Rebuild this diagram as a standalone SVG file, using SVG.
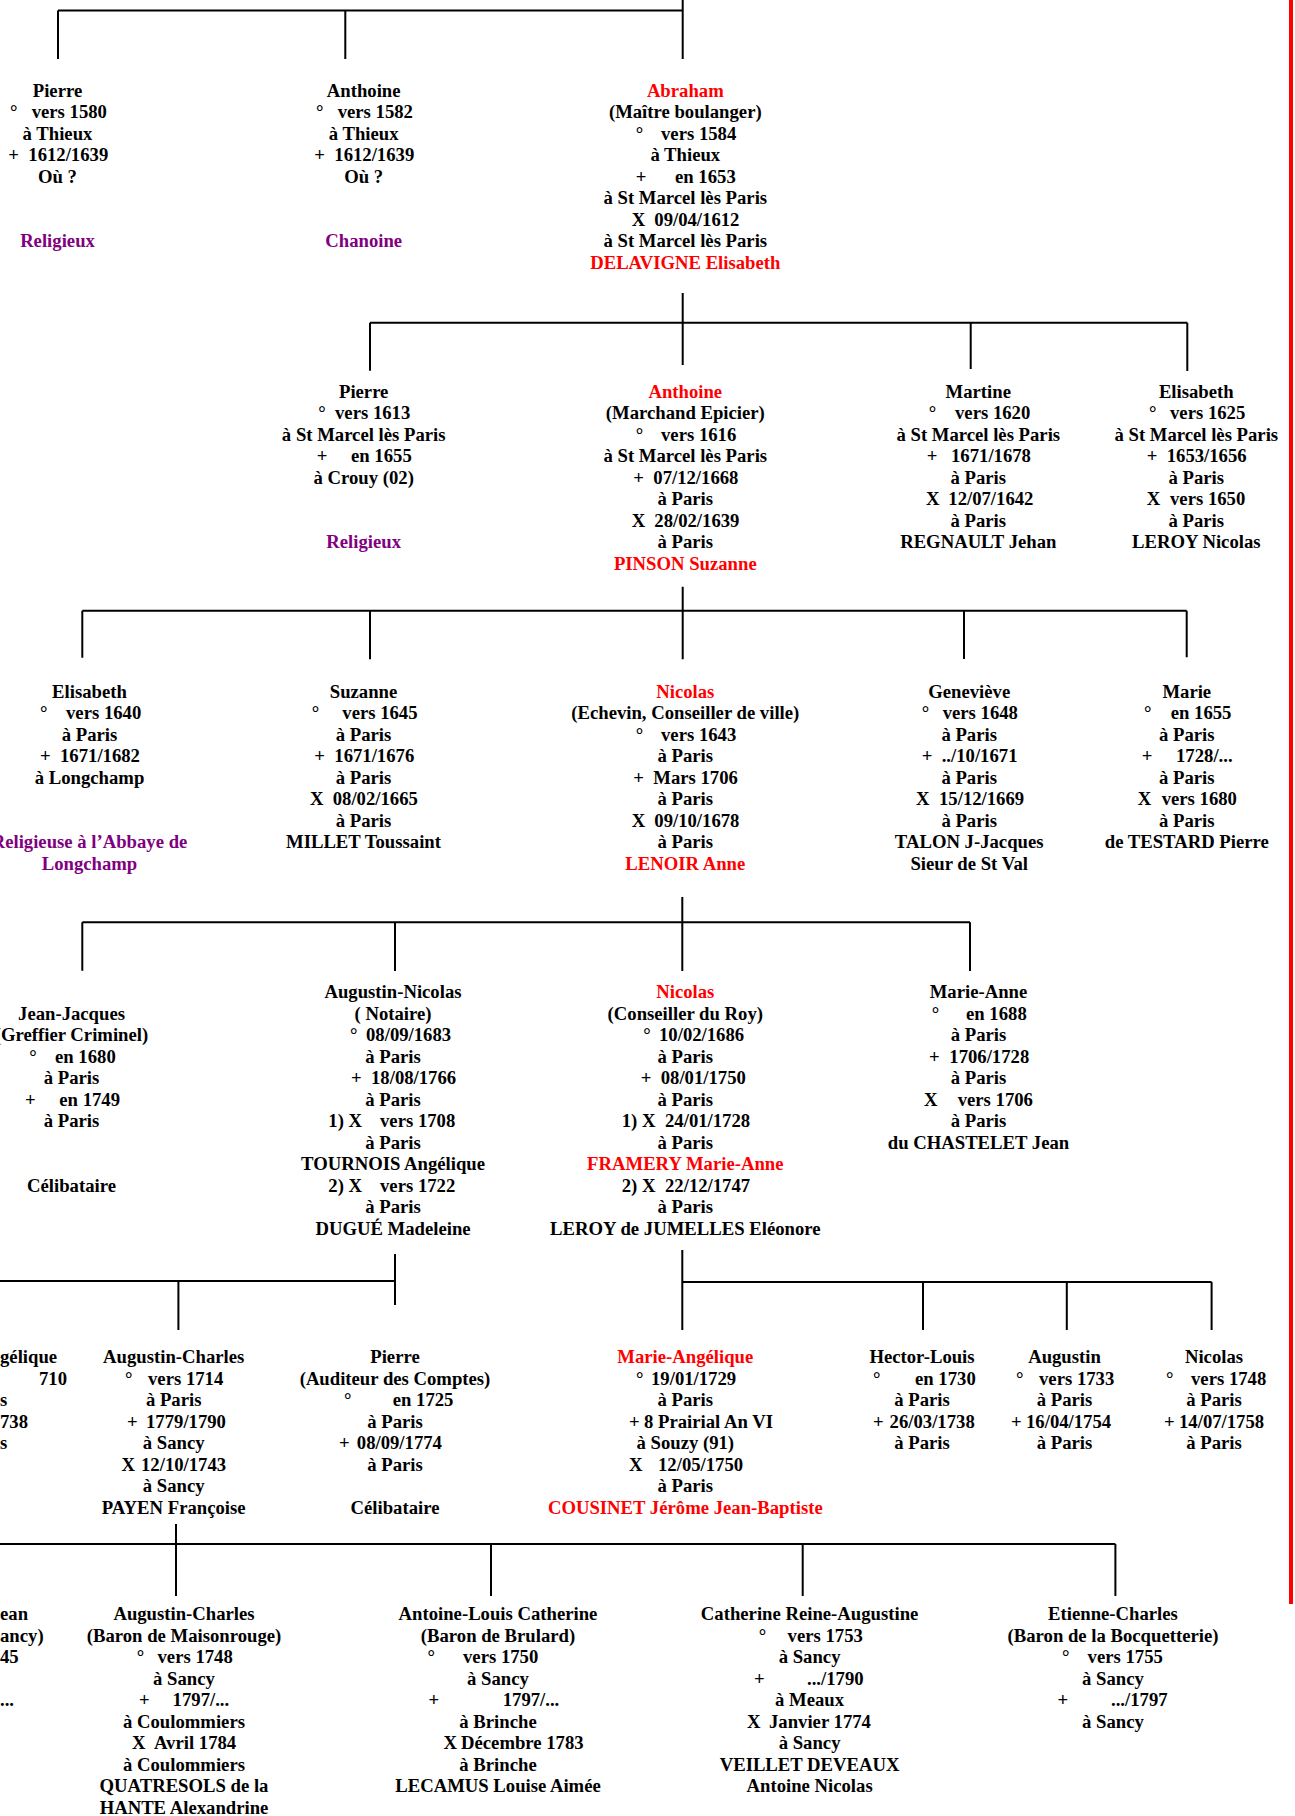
<svg xmlns="http://www.w3.org/2000/svg" width="1295" height="1816" viewBox="0 0 1295 1816">
<style>
.t{font-family:"Liberation Serif","Times New Roman",serif;font-weight:bold;font-size:18.7px;fill:#000}
.m{text-anchor:middle}
.r{fill:#ff0000}
.p{fill:#800080}
#connectors path{stroke:#000;stroke-width:2;fill:none}
</style>
<rect width="1295" height="1816" fill="#fff"/>
<g id="connectors">
<path d="M58,10.5H682.7M58,10.5V59M345.3,10.5V59M682.7,0V59"/>
<path d="M682.7,293V365M370,322.7H1187.3M370,322.7V370.7M970.7,322.7V369M1187.3,322.7V371"/>
<path d="M682.7,586.7V659.3M82.3,610.7H1186.7M82.3,610.7V657.7M370,610.7V659.3M964,610.7V659M1186.7,610.7V657.3"/>
<path d="M682.3,897V971M82.3,922.3H970M82.3,922.3V970.7M395,922.3V971M970,922.3V971"/>
<path d="M0,1281H395M395,1254V1305M178.4,1281V1330"/>
<path d="M682.3,1250V1330M682.3,1282H1211.6M923,1282V1330M1066.8,1282V1330M1211.6,1282V1330"/>
<path d="M176,1524V1596M0,1544H1115.4M491,1544V1596M802.7,1544V1596M1115.4,1544V1596"/>
</g>
<path id="margin" d="M1291,0V1604" stroke="#ff0000" stroke-width="4" fill="none"/>

<g id="g1-pierre">
<text class="t m" x="57.5" y="96.7">Pierre</text>
<text class="t" y="118.2"><tspan x="10">°</tspan><tspan x="31.7">vers 1580</tspan></text>
<text class="t m" x="57.5" y="139.7">à Thieux</text>
<text class="t" y="161.2"><tspan x="8.3">+</tspan><tspan x="28.3">1612/1639</tspan></text>
<text class="t m" x="57.5" y="182.7">Où ?</text>
<text class="t m p" x="57.5" y="247.2">Religieux</text>
</g>
<g id="g1-anthoine">
<text class="t m" x="363.7" y="96.7">Anthoine</text>
<text class="t" y="118.2"><tspan x="316">°</tspan><tspan x="337.7">vers 1582</tspan></text>
<text class="t m" x="363.7" y="139.7">à Thieux</text>
<text class="t" y="161.2"><tspan x="314.3">+</tspan><tspan x="334.3">1612/1639</tspan></text>
<text class="t m" x="363.7" y="182.7">Où ?</text>
<text class="t m p" x="363.7" y="247.2">Chanoine</text>
</g>
<g id="g1-abraham">
<text class="t m r" x="685.3" y="96.7">Abraham</text>
<text class="t m" x="685.3" y="118.2">(Maître boulanger)</text>
<text class="t" y="139.7"><tspan x="635.7">°</tspan><tspan x="661">vers 1584</tspan></text>
<text class="t m" x="685.3" y="161.2">à Thieux</text>
<text class="t" y="182.7"><tspan x="635.7">+</tspan><tspan x="675">en 1653</tspan></text>
<text class="t m" x="685.3" y="204.2">à St Marcel lès Paris</text>
<text class="t" y="225.7"><tspan x="631.7">X</tspan><tspan x="654.3">09/04/1612</tspan></text>
<text class="t m" x="685.3" y="247.2">à St Marcel lès Paris</text>
<text class="t m r" x="685.3" y="268.7">DELAVIGNE Elisabeth</text>
</g>

<g id="g2-pierre">
<text class="t m" x="363.7" y="397.7">Pierre</text>
<text class="t" y="419.2"><tspan x="318.3">°</tspan><tspan x="335">vers 1613</tspan></text>
<text class="t m" x="363.7" y="440.7">à St Marcel lès Paris</text>
<text class="t" y="462.2"><tspan x="316.7">+</tspan><tspan x="351">en 1655</tspan></text>
<text class="t m" x="363.7" y="483.7">à Crouy (02)</text>
<text class="t m p" x="363.7" y="547.7">Religieux</text>
</g>
<g id="g2-anthoine">
<text class="t m r" x="685.3" y="397.7">Anthoine</text>
<text class="t m" x="685.3" y="419.2">(Marchand Epicier)</text>
<text class="t" y="440.7"><tspan x="635.7">°</tspan><tspan x="661">vers 1616</tspan></text>
<text class="t m" x="685.3" y="462.2">à St Marcel lès Paris</text>
<text class="t" y="483.7"><tspan x="633.3">+</tspan><tspan x="653.3">07/12/1668</tspan></text>
<text class="t m" x="685.3" y="505.2">à Paris</text>
<text class="t" y="526.7"><tspan x="631.7">X</tspan><tspan x="654.3">28/02/1639</tspan></text>
<text class="t m" x="685.3" y="548.2">à Paris</text>
<text class="t m r" x="685.3" y="569.7">PINSON Suzanne</text>
</g>
<g id="g2-martine">
<text class="t m" x="978.3" y="397.7">Martine</text>
<text class="t" y="419.2"><tspan x="928.7">°</tspan><tspan x="955">vers 1620</tspan></text>
<text class="t m" x="978.3" y="440.7">à St Marcel lès Paris</text>
<text class="t" y="462.2"><tspan x="926.7">+</tspan><tspan x="951">1671/1678</tspan></text>
<text class="t m" x="978.3" y="483.7">à Paris</text>
<text class="t" y="505.2"><tspan x="926">X</tspan><tspan x="948.3">12/07/1642</tspan></text>
<text class="t m" x="978.3" y="526.7">à Paris</text>
<text class="t m" x="978.3" y="548.2">REGNAULT Jehan</text>
</g>
<g id="g2-elisabeth">
<text class="t m" x="1196.3" y="397.7">Elisabeth</text>
<text class="t" y="419.2"><tspan x="1149">°</tspan><tspan x="1170">vers 1625</tspan></text>
<text class="t m" x="1196.3" y="440.7">à St Marcel lès Paris</text>
<text class="t" y="462.2"><tspan x="1146.7">+</tspan><tspan x="1166.7">1653/1656</tspan></text>
<text class="t m" x="1196.3" y="483.7">à Paris</text>
<text class="t" y="505.2"><tspan x="1146.7">X</tspan><tspan x="1170">vers 1650</tspan></text>
<text class="t m" x="1196.3" y="526.7">à Paris</text>
<text class="t m" x="1196.3" y="548.2">LEROY Nicolas</text>
</g>

<g id="g3-elisabeth">
<text class="t m" x="89.5" y="697.7">Elisabeth</text>
<text class="t" y="719.2"><tspan x="40">°</tspan><tspan x="66">vers 1640</tspan></text>
<text class="t m" x="89.5" y="740.7">à Paris</text>
<text class="t" y="762.2"><tspan x="40">+</tspan><tspan x="60">1671/1682</tspan></text>
<text class="t m" x="89.5" y="783.7">à Longchamp</text>
<text class="t m p" x="89.5" y="848.2">Religieuse à l’Abbaye de</text>
<text class="t m p" x="89.5" y="869.7">Longchamp</text>
</g>
<g id="g3-suzanne">
<text class="t m" x="363.5" y="697.7">Suzanne</text>
<text class="t" y="719.2"><tspan x="311.7">°</tspan><tspan x="342.3">vers 1645</tspan></text>
<text class="t m" x="363.5" y="740.7">à Paris</text>
<text class="t" y="762.2"><tspan x="314.3">+</tspan><tspan x="334.3">1671/1676</tspan></text>
<text class="t m" x="363.5" y="783.7">à Paris</text>
<text class="t" y="805.2"><tspan x="310">X</tspan><tspan x="332.7">08/02/1665</tspan></text>
<text class="t m" x="363.5" y="826.7">à Paris</text>
<text class="t m" x="363.5" y="848.2">MILLET Toussaint</text>
</g>
<g id="g3-nicolas">
<text class="t m r" x="685.3" y="697.7">Nicolas</text>
<text class="t m" x="685.3" y="719.2">(Echevin, Conseiller de ville)</text>
<text class="t" y="740.7"><tspan x="635.7">°</tspan><tspan x="661">vers 1643</tspan></text>
<text class="t m" x="685.3" y="762.2">à Paris</text>
<text class="t" y="783.7"><tspan x="633.3">+</tspan><tspan x="653.3">Mars 1706</tspan></text>
<text class="t m" x="685.3" y="805.2">à Paris</text>
<text class="t" y="826.7"><tspan x="631.7">X</tspan><tspan x="654.3">09/10/1678</tspan></text>
<text class="t m" x="685.3" y="848.2">à Paris</text>
<text class="t m r" x="685.3" y="869.7">LENOIR Anne</text>
</g>
<g id="g3-genevieve">
<text class="t m" x="969.2" y="697.7">Geneviève</text>
<text class="t" y="719.2"><tspan x="921.7">°</tspan><tspan x="942.7">vers 1648</tspan></text>
<text class="t m" x="969.2" y="740.7">à Paris</text>
<text class="t" y="762.2"><tspan x="921.7">+</tspan><tspan x="941.7">../10/1671</tspan></text>
<text class="t m" x="969.2" y="783.7">à Paris</text>
<text class="t" y="805.2"><tspan x="916">X</tspan><tspan x="939">15/12/1669</tspan></text>
<text class="t m" x="969.2" y="826.7">à Paris</text>
<text class="t m" x="969.2" y="848.2">TALON J-Jacques</text>
<text class="t m" x="969.2" y="869.7">Sieur de St Val</text>
</g>
<g id="g3-marie">
<text class="t m" x="1186.8" y="697.7">Marie</text>
<text class="t" y="719.2"><tspan x="1144">°</tspan><tspan x="1170.7">en 1655</tspan></text>
<text class="t m" x="1186.8" y="740.7">à Paris</text>
<text class="t" y="762.2"><tspan x="1141.7">+</tspan><tspan x="1176">1728/...</tspan></text>
<text class="t m" x="1186.8" y="783.7">à Paris</text>
<text class="t" y="805.2"><tspan x="1137.7">X</tspan><tspan x="1161.7">vers 1680</tspan></text>
<text class="t m" x="1186.8" y="826.7">à Paris</text>
<text class="t m" x="1186.8" y="848.2">de TESTARD Pierre</text>
</g>

<g id="g4-jean-jacques">
<text class="t m" x="71.5" y="1019.8">Jean-Jacques</text>
<text class="t m" x="71.5" y="1041.3">(Greffier Criminel)</text>
<text class="t" y="1062.8"><tspan x="29.3">°</tspan><tspan x="55">en 1680</tspan></text>
<text class="t m" x="71.5" y="1084.3">à Paris</text>
<text class="t" y="1105.8"><tspan x="25">+</tspan><tspan x="59.3">en 1749</tspan></text>
<text class="t m" x="71.5" y="1127.3">à Paris</text>
<text class="t m" x="71.5" y="1191.8">Célibataire</text>
</g>
<g id="g4-augustin-nicolas">
<text class="t m" x="393" y="998.3">Augustin-Nicolas</text>
<text class="t m" x="393" y="1019.8">( Notaire)</text>
<text class="t" y="1041.3"><tspan x="350">°</tspan><tspan x="366">08/09/1683</tspan></text>
<text class="t m" x="393" y="1062.8">à Paris</text>
<text class="t" y="1084.3"><tspan x="351">+</tspan><tspan x="371">18/08/1766</tspan></text>
<text class="t m" x="393" y="1105.8">à Paris</text>
<text class="t" y="1127.3"><tspan x="328.3">1) X</tspan><tspan x="380">vers 1708</tspan></text>
<text class="t m" x="393" y="1148.8">à Paris</text>
<text class="t m" x="393" y="1170.3">TOURNOIS Angélique</text>
<text class="t" y="1191.8"><tspan x="328.3">2) X</tspan><tspan x="380">vers 1722</tspan></text>
<text class="t m" x="393" y="1213.3">à Paris</text>
<text class="t m" x="393" y="1234.8">DUGUÉ Madeleine</text>
</g>
<g id="g4-nicolas">
<text class="t m r" x="685.3" y="998.3">Nicolas</text>
<text class="t m" x="685.3" y="1019.8">(Conseiller du Roy)</text>
<text class="t" y="1041.3"><tspan x="643.3">°</tspan><tspan x="659">10/02/1686</tspan></text>
<text class="t m" x="685.3" y="1062.8">à Paris</text>
<text class="t" y="1084.3"><tspan x="640.7">+</tspan><tspan x="660.7">08/01/1750</tspan></text>
<text class="t m" x="685.3" y="1105.8">à Paris</text>
<text class="t" y="1127.3"><tspan x="621.7">1) X</tspan><tspan x="665">24/01/1728</tspan></text>
<text class="t m" x="685.3" y="1148.8">à Paris</text>
<text class="t m r" x="685.3" y="1170.3">FRAMERY Marie-Anne</text>
<text class="t" y="1191.8"><tspan x="621.7">2) X</tspan><tspan x="665">22/12/1747</tspan></text>
<text class="t m" x="685.3" y="1213.3">à Paris</text>
<text class="t m" x="685.3" y="1234.8">LEROY de JUMELLES Eléonore</text>
</g>
<g id="g4-marie-anne">
<text class="t m" x="978.5" y="998.3">Marie-Anne</text>
<text class="t" y="1019.8"><tspan x="931.7">°</tspan><tspan x="966">en 1688</tspan></text>
<text class="t m" x="978.5" y="1041.3">à Paris</text>
<text class="t" y="1062.8"><tspan x="929">+</tspan><tspan x="949.3">1706/1728</tspan></text>
<text class="t m" x="978.5" y="1084.3">à Paris</text>
<text class="t" y="1105.8"><tspan x="924">X</tspan><tspan x="957.7">vers 1706</tspan></text>
<text class="t m" x="978.5" y="1127.3">à Paris</text>
<text class="t m" x="978.5" y="1148.8">du CHASTELET Jean</text>
</g>

<g id="g5-left">
<text class="t" x="0" y="1363">gélique</text>
<text class="t" x="39" y="1384.5">710</text>
<text class="t" x="0" y="1406">s</text>
<text class="t" x="0" y="1427.5">738</text>
<text class="t" x="0" y="1449">s</text>
</g>
<g id="g5-augustin-charles">
<text class="t m" x="173.7" y="1363">Augustin-Charles</text>
<text class="t" y="1384.5"><tspan x="125">°</tspan><tspan x="148">vers 1714</tspan></text>
<text class="t m" x="173.7" y="1406">à Paris</text>
<text class="t" y="1427.5"><tspan x="127">+</tspan><tspan x="146">1779/1790</tspan></text>
<text class="t m" x="173.7" y="1449">à Sancy</text>
<text class="t" y="1470.5"><tspan x="121.6">X</tspan><tspan x="141">12/10/1743</tspan></text>
<text class="t m" x="173.7" y="1492">à Sancy</text>
<text class="t m" x="173.7" y="1513.5">PAYEN Françoise</text>
</g>
<g id="g5-pierre">
<text class="t m" x="395" y="1363">Pierre</text>
<text class="t m" x="395" y="1384.5">(Auditeur des Comptes)</text>
<text class="t" y="1406"><tspan x="344">°</tspan><tspan x="392.7">en 1725</tspan></text>
<text class="t m" x="395" y="1427.5">à Paris</text>
<text class="t" y="1449"><tspan x="339">+</tspan><tspan x="356.8">08/09/1774</tspan></text>
<text class="t m" x="395" y="1470.5">à Paris</text>
<text class="t m" x="395" y="1513.5">Célibataire</text>
</g>
<g id="g5-marie-angelique">
<text class="t m r" x="685.3" y="1363">Marie-Angélique</text>
<text class="t" y="1384.5"><tspan x="636">°</tspan><tspan x="651">19/01/1729</tspan></text>
<text class="t m" x="685.3" y="1406">à Paris</text>
<text class="t" y="1427.5"><tspan x="629">+</tspan><tspan x="644">8 Prairial An VI</tspan></text>
<text class="t m" x="685.3" y="1449">à Souzy (91)</text>
<text class="t" y="1470.5"><tspan x="629">X</tspan><tspan x="658">12/05/1750</tspan></text>
<text class="t m" x="685.3" y="1492">à Paris</text>
<text class="t m r" x="685.3" y="1513.5">COUSINET Jérôme Jean-Baptiste</text>
</g>
<g id="g5-hector-louis">
<text class="t m" x="922" y="1363">Hector-Louis</text>
<text class="t" y="1384.5"><tspan x="873">°</tspan><tspan x="915">en 1730</tspan></text>
<text class="t m" x="922" y="1406">à Paris</text>
<text class="t" y="1427.5"><tspan x="873">+</tspan><tspan x="889.6">26/03/1738</tspan></text>
<text class="t m" x="922" y="1449">à Paris</text>
</g>
<g id="g5-augustin">
<text class="t m" x="1064.5" y="1363">Augustin</text>
<text class="t" y="1384.5"><tspan x="1016">°</tspan><tspan x="1039">vers 1733</tspan></text>
<text class="t m" x="1064.5" y="1406">à Paris</text>
<text class="t" y="1427.5"><tspan x="1011">+</tspan><tspan x="1026">16/04/1754</tspan></text>
<text class="t m" x="1064.5" y="1449">à Paris</text>
</g>
<g id="g5-nicolas">
<text class="t m" x="1214" y="1363">Nicolas</text>
<text class="t" y="1384.5"><tspan x="1166">°</tspan><tspan x="1191">vers 1748</tspan></text>
<text class="t m" x="1214" y="1406">à Paris</text>
<text class="t" y="1427.5"><tspan x="1164">+</tspan><tspan x="1179">14/07/1758</tspan></text>
<text class="t m" x="1214" y="1449">à Paris</text>
</g>

<g id="g6-left">
<text class="t" x="0" y="1620.3">ean</text>
<text class="t" x="0" y="1641.8">ancy)</text>
<text class="t" x="0" y="1663.3">45</text>
<text class="t" x="0" y="1706.3">...</text>
</g>
<g id="g6-augustin-charles">
<text class="t m" x="184" y="1620.3">Augustin-Charles</text>
<text class="t m" x="184" y="1641.8">(Baron de Maisonrouge)</text>
<text class="t" y="1663.3"><tspan x="136.7">°</tspan><tspan x="157.5">vers 1748</tspan></text>
<text class="t m" x="184" y="1684.8">à Sancy</text>
<text class="t" y="1706.3"><tspan x="139">+</tspan><tspan x="172.6">1797/...</tspan></text>
<text class="t m" x="184" y="1727.8">à Coulommiers</text>
<text class="t" y="1749.3"><tspan x="132">X</tspan><tspan x="154">Avril 1784</tspan></text>
<text class="t m" x="184" y="1770.8">à Coulommiers</text>
<text class="t m" x="184" y="1792.3">QUATRESOLS de la</text>
<text class="t m" x="184" y="1813.8">HANTE Alexandrine</text>
</g>
<g id="g6-antoine-louis">
<text class="t m" x="498" y="1620.3">Antoine-Louis Catherine</text>
<text class="t m" x="498" y="1641.8">(Baron de Brulard)</text>
<text class="t" y="1663.3"><tspan x="427.4">°</tspan><tspan x="463">vers 1750</tspan></text>
<text class="t m" x="498" y="1684.8">à Sancy</text>
<text class="t" y="1706.3"><tspan x="428.6">+</tspan><tspan x="502.7">1797/...</tspan></text>
<text class="t m" x="498" y="1727.8">à Brinche</text>
<text class="t" y="1749.3"><tspan x="443.6">X</tspan><tspan x="461">Décembre 1783</tspan></text>
<text class="t m" x="498" y="1770.8">à Brinche</text>
<text class="t m" x="498" y="1792.3">LECAMUS Louise Aimée</text>
</g>
<g id="g6-catherine">
<text class="t m" x="809.6" y="1620.3">Catherine Reine-Augustine</text>
<text class="t" y="1641.8"><tspan x="758.7">°</tspan><tspan x="787.6">vers 1753</tspan></text>
<text class="t m" x="809.6" y="1663.3">à Sancy</text>
<text class="t" y="1684.8"><tspan x="754">+</tspan><tspan x="807">.../1790</tspan></text>
<text class="t m" x="809.6" y="1706.3">à Meaux</text>
<text class="t" y="1727.8"><tspan x="747">X</tspan><tspan x="769">Janvier 1774</tspan></text>
<text class="t m" x="809.6" y="1749.3">à Sancy</text>
<text class="t m" x="809.6" y="1770.8">VEILLET DEVEAUX</text>
<text class="t m" x="809.6" y="1792.3">Antoine Nicolas</text>
</g>
<g id="g6-etienne-charles">
<text class="t m" x="1113" y="1620.3">Etienne-Charles</text>
<text class="t m" x="1113" y="1641.8">(Baron de la Bocquetterie)</text>
<text class="t" y="1663.3"><tspan x="1062">°</tspan><tspan x="1087.6">vers 1755</tspan></text>
<text class="t m" x="1113" y="1684.8">à Sancy</text>
<text class="t" y="1706.3"><tspan x="1057.5">+</tspan><tspan x="1111">.../1797</tspan></text>
<text class="t m" x="1113" y="1727.8">à Sancy</text>
</g>
</svg>
